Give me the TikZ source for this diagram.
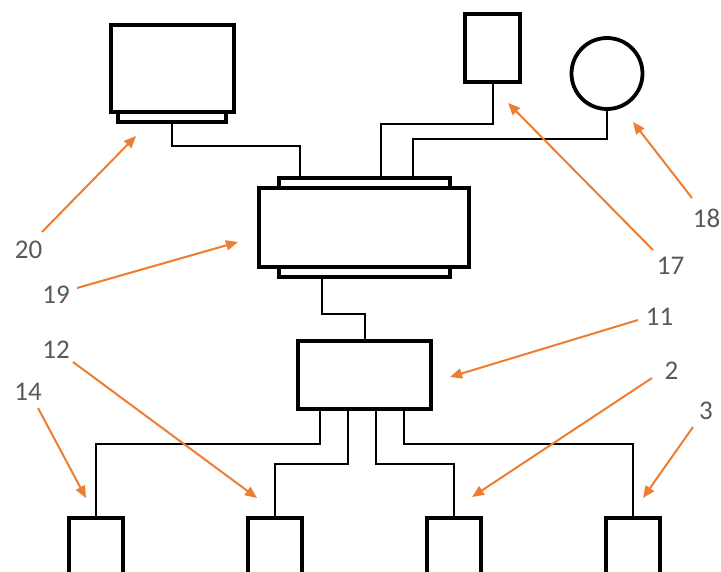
\documentclass[tikz,border=0pt]{standalone}
\usepackage{fontspec}
\setmainfont{Carlito}
\usetikzlibrary{arrows.meta}
\definecolor{callout}{HTML}{ED7D31}
\definecolor{labelgray}{HTML}{595959}
\tikzset{
  unit/.style={draw=black, line width=3.8pt, fill=white, inner sep=0pt, line join=miter},
  cable/.style={draw=black, line width=2pt},
  pointer/.style={draw=callout, line width=2pt, -{Triangle[length=12pt,width=10pt]}},
  tag/.style={text=labelgray, inner sep=0pt, font=\fontsize{27}{27}\selectfont}
}
\begin{document}
\begin{tikzpicture}[x=1pt, y=-1pt]
\useasboundingbox (0,0) rectangle (721,572);
\clip (0,0) rectangle (721,572);

% display unit and its stand
\node[unit, minimum width=123pt, minimum height=87pt] (mon) at (172.5,68.5) {};
\node[unit, minimum width=108pt, minimum height=10pt] (monbase) at (172,117) {};

% central unit with upper and lower strips
\node[unit, minimum width=171pt, minimum height=10pt] (ctop) at (364.5,183) {};
\node[unit, minimum width=171pt, minimum height=10pt] (cbot) at (364.5,272) {};
\node[unit, minimum width=210pt, minimum height=79pt] (cmain) at (364,227.5) {};

% upper peripherals
\node[unit, minimum width=55pt, minimum height=68pt] (dev17) at (492.5,48) {};
\node[unit, circle, minimum size=71pt] (dev18) at (607,73.5) {};

% controller
\node[unit, minimum width=133pt, minimum height=68pt] (ctrl) at (364.5,375) {};

% lower modules (run past the lower edge)
\node[unit, minimum width=54pt, minimum height=82pt] (b14) at (96,559) {};
\node[unit, minimum width=54pt, minimum height=82pt] (b12) at (275,559) {};
\node[unit, minimum width=54pt, minimum height=82pt] (b2) at (454,559) {};
\node[unit, minimum width=54pt, minimum height=82pt] (b3) at (633,559) {};

% wiring
\draw[cable] (monbase.south) -- ++(0,22) -| ([xshift=23pt]ctop.north west);
\draw[cable] (dev17.south) -- ++(0,40) -| ([xshift=104pt]ctop.north west);
\draw[cable] (dev18.south) -- ++(0,28) -| ([xshift=136pt]ctop.north west);
\draw[cable] ([xshift=45pt]cbot.south west) -- ++(0,35) -| (ctrl.north);
\draw[cable] ([xshift=24pt]ctrl.south west) -- ++(0,33) -| (b14.north);
\draw[cable] ([xshift=52pt]ctrl.south west) -- ++(0,53) -| (b12.north);
\draw[cable] ([xshift=80pt]ctrl.south west) -- ++(0,53) -| (b2.north);
\draw[cable] ([xshift=108pt]ctrl.south west) -- ++(0,33) -| (b3.north);

% reference numerals
\node[tag] (l20) at (28.5,250) {20};
\node[tag] (l19) at (56,294.5) {19};
\node[tag] (l17) at (670.5,266) {17};
\node[tag] (l18) at (706.5,218.5) {18};
\node[tag] (l11) at (659.5,317) {11};
\node[tag] (l2)  at (671.5,370.5) {2};
\node[tag] (l3)  at (706,410.5) {3};
\node[tag] (l12) at (56,350) {12};
\node[tag] (l14) at (28,392) {14};

% leader arrows
\coordinate (s20) at (42,232);  \coordinate (t20) at (136,136);
\coordinate (s19) at (77,288);  \coordinate (t19) at (238,242);
\coordinate (s17) at (653,250); \coordinate (t17) at (508,103);
\coordinate (s18) at (692,198); \coordinate (t18) at (633,122);
\coordinate (s11) at (638,320); \coordinate (t11) at (450,377);
\coordinate (s2)  at (652,378); \coordinate (t2)  at (472,497);
\coordinate (s3)  at (693,427); \coordinate (t3)  at (643,498);
\coordinate (s12) at (73,362);  \coordinate (t12) at (257,498);
\coordinate (s14) at (38,408);  \coordinate (t14) at (86,498);
\foreach \k in {20,19,17,18,11,2,3,12,14}
  \draw[pointer] (s\k) -- (t\k);
\end{tikzpicture}
\end{document}
